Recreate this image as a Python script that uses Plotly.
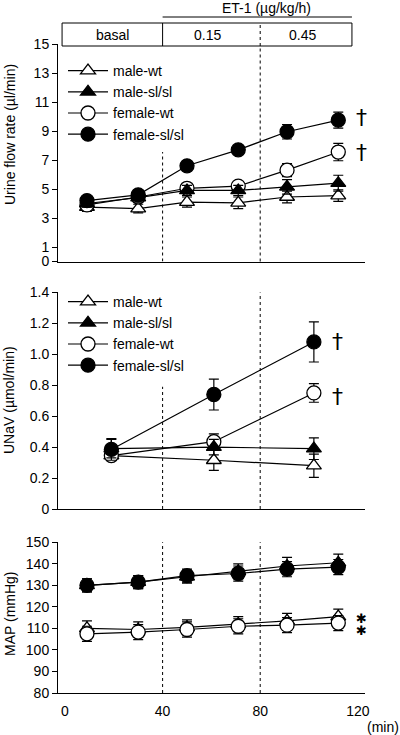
import plotly.graph_objects as go

# ---------------- data ----------------
series_names = ["male-wt", "male-sl/sl", "female-wt", "female-sl/sl"]

t_flow = [9, 30, 50, 71, 91, 112]
flow_male_wt = [3.75, 3.65, 4.1, 4.05, 4.45, 4.55]
flow_male_wt_err = [0.3, 0.3, 0.35, 0.4, 0.4, 0.4]
flow_male_sl = [4.0, 4.4, 4.9, 4.9, 5.15, 5.4]
flow_male_sl_err = [0.25, 0.3, 0.35, 0.35, 0.5, 0.55]
flow_female_wt = [3.9, 4.45, 5.05, 5.2, 6.3, 7.55]
flow_female_wt_err = [0.3, 0.3, 0.3, 0.3, 0.45, 0.6]
flow_female_sl = [4.2, 4.6, 6.6, 7.7, 8.95, 9.75]
flow_female_sl_err = [0.3, 0.3, 0.35, 0.3, 0.5, 0.55]

t_unav = [19, 61, 102]
unav_male_wt = [0.345, 0.315, 0.28]
unav_male_wt_err = [0.03, 0.065, 0.075]
unav_male_sl = [0.39, 0.40, 0.39]
unav_male_sl_err = [0.06, 0.05, 0.07]
unav_female_wt = [0.345, 0.435, 0.75]
unav_female_wt_err = [0.03, 0.05, 0.06]
unav_female_sl = [0.385, 0.74, 1.08]
unav_female_sl_err = [0.07, 0.10, 0.13]

t_map = [9, 30, 50, 71, 91, 112]
map_male_wt = [110, 109.5, 110.5, 112, 113.5, 115.5]
map_male_wt_err = [3.5, 3.5, 3.5, 3.5, 3.5, 3.5]
map_male_sl = [130, 131.5, 134, 136.5, 139, 140.5]
map_male_sl_err = [3, 3, 3, 3.5, 4, 4]
map_female_wt = [107.5, 108.3, 109.5, 111, 111.5, 112.5]
map_female_wt_err = [3.5, 3.5, 3.5, 3.5, 3.5, 3.5]
map_female_sl = [130, 131.5, 134.5, 135.5, 137.5, 138.5]
map_female_sl_err = [3, 3, 3, 3.5, 3.5, 3.5]

flow_ticks = [0, 1, 3, 5, 7, 9, 11, 13, 15]
unav_ticks = [0, 0.2, 0.4, 0.6, 0.8, 1.0, 1.2, 1.4]
unav_ticktext = ["0", "0.2", "0.4", "0.6", "0.8", "1.0", "1.2", "1.4"]
map_ticks = [80, 90, 100, 110, 120, 130, 140, 150]
time_ticks = [0, 40, 80, 120]
period_labels = ["basal", "0.15", "0.45"]
map_sig_levels = [114.4, 108.9]

# ---------------- styling ----------------
FONT = "Liberation Sans, Arial, sans-serif"
W, H = 400, 735
styles = {
    "male-wt": dict(symbol="triangle-up", color="white"),
    "male-sl/sl": dict(symbol="triangle-up", color="black"),
    "female-wt": dict(symbol="circle", color="white"),
    "female-sl/sl": dict(symbol="circle", color="black"),
}
rank = {"male-wt": 1, "male-sl/sl": 2, "female-wt": 3, "female-sl/sl": 4}
draw_order = ["male-wt", "female-wt", "male-sl/sl", "female-sl/sl"]

fig = go.Figure()

panels = [
    ("x", "y", t_flow, {"male-wt": (flow_male_wt, flow_male_wt_err),
                        "male-sl/sl": (flow_male_sl, flow_male_sl_err),
                        "female-wt": (flow_female_wt, flow_female_wt_err),
                        "female-sl/sl": (flow_female_sl, flow_female_sl_err)}, "legend"),
    ("x2", "y2", t_unav, {"male-wt": (unav_male_wt, unav_male_wt_err),
                          "male-sl/sl": (unav_male_sl, unav_male_sl_err),
                          "female-wt": (unav_female_wt, unav_female_wt_err),
                          "female-sl/sl": (unav_female_sl, unav_female_sl_err)}, "legend2"),
    ("x3", "y3", t_map, {"male-wt": (map_male_wt, map_male_wt_err),
                         "male-sl/sl": (map_male_sl, map_male_sl_err),
                         "female-wt": (map_female_wt, map_female_wt_err),
                         "female-sl/sl": (map_female_sl, map_female_sl_err)}, None),
]

for xa, ya, tt, data, leg in panels:
    for name in draw_order:
        vals, errs = data[name]
        st = styles[name]
        size = 14 if st["symbol"] == "circle" else 13
        fig.add_trace(go.Scatter(
            x=tt, y=vals, name=name, xaxis=xa, yaxis=ya,
            mode="lines+markers",
            line=dict(color="black", width=1.2),
            marker=dict(symbol=st["symbol"], size=size, color=st["color"],
                        line=dict(color="black", width=1.3)),
            error_y=dict(type="data", array=errs, color="black", thickness=1.2, width=5),
            showlegend=leg is not None,
            legend=leg if leg else "legend",
            legendrank=rank[name],
        ))

# geometry
x_dom = [58 / W, 365 / W]
x_rng = [-2.87, 122.95]

def py(px):
    return 1 - px / H

axis_common = dict(showline=True, linecolor="black", linewidth=1, showgrid=False,
                   zeroline=False, mirror=False, automargin=False)

fig.update_layout(
    width=W, height=H,
    autosize=False,
    margin=dict(l=0, r=0, t=0, b=0, pad=0, autoexpand=False),
    paper_bgcolor="white", plot_bgcolor="white",
    font=dict(family=FONT, size=14, color="black"),
    showlegend=True,
    xaxis=dict(domain=x_dom, range=x_rng, anchor="y", showticklabels=False, ticks="", **axis_common),
    xaxis2=dict(domain=x_dom, range=x_rng, anchor="y2", showticklabels=False, ticks="", **axis_common),
    xaxis3=dict(domain=x_dom, range=x_rng, anchor="y3", tickvals=time_ticks, ticks="",
                ticklabelstandoff=5, tickfont=dict(size=14), **axis_common),
    yaxis=dict(domain=[py(261.5), py(44)], range=[0, 15], anchor="x", tickvals=flow_ticks,
               ticks="outside", ticklen=5, tickwidth=1, tickcolor="black", **axis_common),
    yaxis2=dict(domain=[py(509), py(292.4)], range=[0, 1.4], anchor="x2", tickvals=unav_ticks,
                ticktext=unav_ticktext, ticks="outside", ticklen=5, tickwidth=1, tickcolor="black",
                **axis_common),
    yaxis3=dict(domain=[py(693), py(542.3)], range=[80, 150], anchor="x3", tickvals=map_ticks,
                ticks="outside", ticklen=5, tickwidth=1, tickcolor="black", **axis_common),
    legend=dict(x=63 / W, y=py(55), xanchor="left", yanchor="top", bgcolor="rgba(0,0,0,0)",
                font=dict(size=14), itemwidth=40, tracegroupgap=0),
    legend2=dict(x=63 / W, y=py(286), xanchor="left", yanchor="top", bgcolor="rgba(0,0,0,0)",
                 font=dict(size=14), itemwidth=40, tracegroupgap=0),
)

shapes = []
dot = dict(color="black", width=1, dash="dot")
# dotted vertical lines
shapes.append(dict(type="line", xref="x", yref="y", x0=40, x1=40, y0=0, y1=7.55, line=dot))
shapes.append(dict(type="line", xref="x", yref="paper", x0=80, x1=80, y0=py(261.5), y1=py(46), line=dot))
shapes.append(dict(type="line", xref="x2", yref="y2", x0=40, x1=40, y0=0, y1=0.79, line=dot))
shapes.append(dict(type="line", xref="x2", yref="y2", x0=80, x1=80, y0=0, y1=1.46, line=dot))
shapes.append(dict(type="line", xref="x3", yref="y3", x0=40, x1=40, y0=80, y1=156.6, line=dot))
shapes.append(dict(type="line", xref="x3", yref="y3", x0=80, x1=80, y0=80, y1=156.6, line=dot))
# period box
shapes.append(dict(type="rect", xref="x", yref="paper", x0=-1.2, x1=117.6, y0=py(46), y1=py(23),
                   line=dict(color="black", width=1)))
shapes.append(dict(type="line", xref="x", yref="paper", x0=40, x1=40, y0=py(46), y1=py(23),
                   line=dict(color="black", width=1)))
shapes.append(dict(type="line", xref="x", yref="paper", x0=80, x1=80, y0=py(46), y1=py(23), line=dot))
shapes.append(dict(type="line", xref="x", yref="paper", x0=40, x1=117.6, y0=py(17), y1=py(17),
                   line=dict(color="black", width=1)))
fig.update_layout(shapes=shapes)

C = dict(xanchor="center", yanchor="middle", showarrow=False)
ann = []
ann.append(dict(text="ET-1 (µg/kg/h)", xref="x", yref="paper", x=82.4, y=py(8),
                font=dict(size=14), **C))
for lbl, xc in zip(period_labels, [19.3, 58.2, 97.5]):
    ann.append(dict(text=lbl, xref="x", yref="paper", x=xc, y=py(34.5), font=dict(size=14), **C))
# axis titles
ann.append(dict(text="Urine flow rate (µl/min)", xref="paper", yref="paper", x=10 / W,
                y=py(135), textangle=-90, font=dict(size=14), **C))
ann.append(dict(text="UNaV (µmol/min)", xref="paper", yref="paper", x=9 / W,
                y=py(400), textangle=-90, font=dict(size=14), **C))
ann.append(dict(text="MAP (mmHg)", xref="paper", yref="paper", x=10 / W,
                y=py(614), textangle=-90, font=dict(size=14), **C))
ann.append(dict(text="(min)", xref="paper", yref="paper", x=383 / W, y=py(727),
                font=dict(size=14), **C))
# significance marks
dag_font = dict(size=22, color="black", family="DejaVu Sans, Liberation Sans")
for yv in [flow_female_sl[-1] + 0.2, flow_female_wt[-1]]:
    ann.append(dict(text="†", xref="x", yref="y", x=121.5, y=yv, font=dag_font, **C))
for yv in [unav_female_sl[-1], unav_female_wt[-1] - 0.02]:
    ann.append(dict(text="†", xref="x2", yref="y2", x=111.5, y=yv, font=dag_font, **C))
for yv in map_sig_levels:
    ann.append(dict(text="✱", xref="x3", yref="y3", x=121.7, y=yv,
                    font=dict(size=13, color="black", family="DejaVu Sans"), **C))
fig.update_layout(annotations=ann)

fig.write_html("out.html", config={"displayModeBar": False},
               post_script="document.body.style.margin='0';")
